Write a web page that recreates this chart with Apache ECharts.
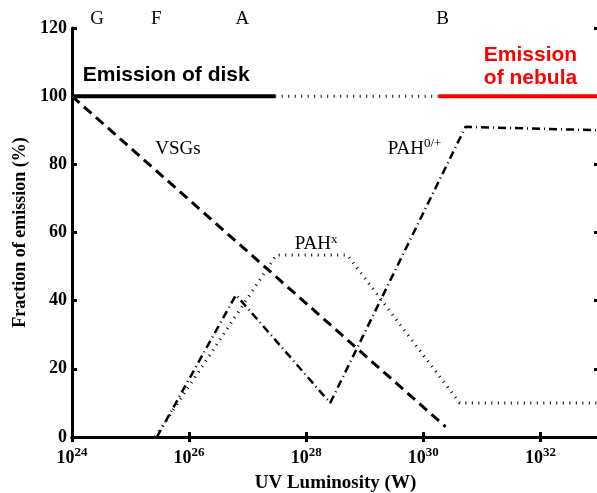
<!DOCTYPE html>
<html>
<head>
<meta charset="utf-8">
<script src="https://cdn.jsdelivr.net/npm/echarts@6/dist/echarts.min.js"></script>
<style>html,body{margin:0;padding:0;background:#fff}#c{width:597px;height:493px}</style>
</head>
<body>
<div id="c"></div>
<script>
// x values are log10 of UV luminosity (W)
const xTicks = [24, 26, 28, 30, 32];
const yTicks = [0, 20, 40, 60, 80, 100, 120];
const diskLine = [[24, 100], [27.47, 100]];
const transitionLine = [[27.47, 100], [30.26, 100]];
const nebulaLine = [[30.26, 100], [33, 100]];
const vsgs = [[24, 100], [30.38, 3]];
const pahX = [[25.42, 0], [27.49, 53.4], [28.70, 53.4], [30.62, 10], [33, 10]];
const pah0 = [[25.45, 0], [26.80, 41.7], [28.41, 10], [30.72, 91], [33, 90]];
const stellarTypes = [['G', 24.43], ['F', 25.44], ['A', 26.91], ['B', 30.33]];
const annotations = [
  ['Emission of disk', 25.61, 106.2, 'disk'],
  ['Emission\nof nebula', 31.83, 108.7, 'neb'],
  ['VSGs', 25.81, 84.5, 'tm'],
  ['PAH{s|x}', 28.17, 56.5, 'tm'],
  ['PAH{s|0/+}', 29.85, 84.5, 'tm']
];

const serif = 'Liberation Serif';
const sans = 'Liberation Sans';
const chart = echarts.init(document.getElementById('c'));
const richStyles = {
  disk: {fontFamily: sans, fontWeight: 'bold', fontSize: 21, color: '#000'},
  neb: {fontFamily: sans, fontWeight: 'bold', fontSize: 21, color: '#ff0000', lineHeight: 23, align: 'center'},
  tm: {fontFamily: serif, fontSize: 19, color: '#000'},
  s: {fontFamily: serif, fontSize: 13, color: '#000', verticalAlign: 'bottom', padding: [0, 0, 10, 0]}
};

chart.setOption({
  animation: false,
  grid: {left: 72, top: 28, right: -2, bottom: 56, outerBoundsMode: 'none', containLabel: false},
  xAxis: [{
    type: 'value', min: 24, max: 33, interval: 2, position: 'bottom',
    name: 'UV Luminosity (W)', nameLocation: 'middle', nameGap: 37,
    nameTextStyle: {fontFamily: serif, fontWeight: 'bold', fontSize: 19, color: '#000'},
    axisLine: {lineStyle: {color: '#000', width: 3}},
    axisTick: {inside: true, length: 5, lineStyle: {color: '#000', width: 3}},
    splitLine: {show: false},
    axisLabel: {
      showMaxLabel: false, margin: 9,
      formatter: v => xTicks.includes(v) ? '{b|10}{e|' + v + '}' : '',
      rich: {
        b: {fontFamily: serif, fontWeight: 'bold', fontSize: 18, color: '#000'},
        e: {fontFamily: serif, fontWeight: 'bold', fontSize: 13, color: '#000', verticalAlign: 'bottom', padding: [0, 0, 12, 0]}
      }
    }
  }, {
    type: 'value', min: 24, max: 33, interval: 2, position: 'top',
    axisLine: {lineStyle: {color: '#000', width: 3}},
    axisTick: {inside: true, length: 5, lineStyle: {color: '#000', width: 3}},
    axisLabel: {show: false}, splitLine: {show: false}
  }],
  yAxis: [{
    type: 'value', min: 0, max: 120, interval: 20, position: 'left',
    name: 'Fraction of emission (%)', nameLocation: 'middle', nameGap: 42,
    nameTextStyle: {fontFamily: serif, fontWeight: 'bold', fontSize: 18, color: '#000'},
    axisLine: {lineStyle: {color: '#000', width: 3}},
    axisTick: {inside: true, length: 5, lineStyle: {color: '#000', width: 3}},
    splitLine: {show: false},
    axisLabel: {margin: 5, fontFamily: serif, fontWeight: 'bold', fontSize: 18, color: '#000',
      formatter: v => yTicks.includes(v) ? String(v) : ''}
  }, {
    type: 'value', min: 0, max: 120, interval: 20, position: 'right',
    axisLine: {show: false},
    axisTick: {show: true, inside: true, length: 5, lineStyle: {color: '#000', width: 3}},
    axisLabel: {show: false}, splitLine: {show: false}
  }],
  series: [
    {type: 'line', data: diskLine, symbol: 'none', lineStyle: {color: '#000', width: 4}},
    {type: 'line', data: transitionLine, symbol: 'none', lineStyle: {color: '#000', width: 3, type: [1, 5.5]}},
    {type: 'line', data: nebulaLine, symbol: 'none', lineStyle: {color: '#ff0000', width: 4}},
    {type: 'line', data: vsgs, symbol: 'none', lineStyle: {color: '#000', width: 3, type: [10, 6]}},
    {type: 'line', data: pahX, symbol: 'none', lineStyle: {color: '#000', width: 3, type: [1, 5.5]}},
    {type: 'line', data: pah0, symbol: 'none', lineStyle: {color: '#000', width: 2.5, type: [8, 4, 1, 4]}},
    {type: 'scatter', symbolSize: 0, clip: false, silent: true, itemStyle: {opacity: 1, color: '#000'},
      data: stellarTypes.map(d => ({value: [d[1], 120], name: d[0]})),
      label: {show: true, position: 'top', distance: -1, formatter: p => p.name, opacity: 1,
        fontFamily: serif, fontSize: 19, color: '#000'}},
    {type: 'scatter', symbolSize: 0, clip: false, silent: true, itemStyle: {opacity: 1, color: '#000'},
      data: annotations.map(d => ({value: [d[1], d[2]], name: d[0], style: d[3]})),
      label: {show: true, position: 'inside', align: 'center', verticalAlign: 'middle', color: '#000', opacity: 1,
        formatter: p => {
          const st = p.data.style;
          if (st === 'neb') return p.name.split('\n').map(t => '{neb|' + t + '}').join('\n');
          if (st === 'disk') return '{disk|' + p.name + '}';
          return p.name.replace(/^([^{]+)/, '{tm|$1}');
        },
        rich: richStyles}}
  ]
});
</script>
</body>
</html>
